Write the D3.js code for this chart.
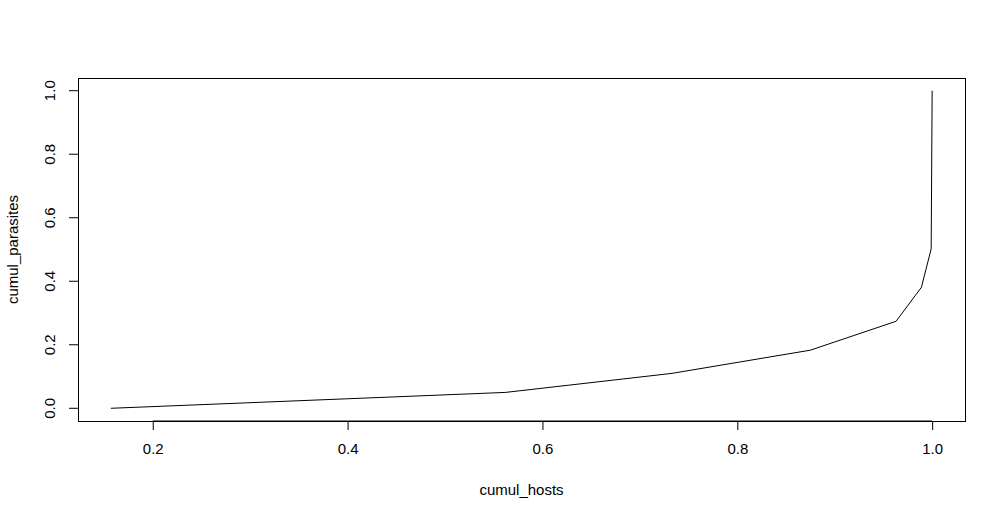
<!DOCTYPE html>
<html>
<head>
<meta charset="utf-8">
<script src="https://cdn.jsdelivr.net/npm/d3@7"></script>
<style>
  body { margin: 0; background: #fff; }
  text { font-family: "Liberation Sans", Arial, sans-serif; font-size: 15px; fill: #000; }
</style>
</head>
<body>
<div id="chart"></div>
<script>
// data
var cumul_hosts = [0.157, 0.562, 0.733, 0.875, 0.963, 0.989, 0.999, 1.0];
var cumul_parasites = [0.0, 0.050, 0.110, 0.183, 0.274, 0.381, 0.502, 1.0];
var xTicks = [0.2, 0.4, 0.6, 0.8, 1.0];
var yTicks = [0.0, 0.2, 0.4, 0.6, 0.8, 1.0];

var W = 1004, H = 519;
var margin = {top: 78, right: 39, bottom: 98, left: 78},
    width = W - margin.left - margin.right,
    height = H - margin.top - margin.bottom;

var svg = d3.select("#chart")
  .append("svg")
    .attr("width", W)
    .attr("height", H);

var g = svg.append("g")
    .attr("transform", "translate(" + margin.left + "," + margin.top + ")");

// R style 4% padding on each side
var xmin = d3.min(cumul_hosts), xmax = d3.max(cumul_hosts);
var ymin = d3.min(cumul_parasites), ymax = d3.max(cumul_parasites);
var dx = (xmax - xmin) * 0.04, dy = (ymax - ymin) * 0.04;

var x = d3.scaleLinear()
  .domain([xmin - dx, xmax + dx])
  .range([0, width]);

var y = d3.scaleLinear()
  .domain([ymin - dy, ymax + dy])
  .range([height, 0]);

// X axis
var xAxis = g.append("g")
  .attr("transform", "translate(0," + height + ")")
  .call(d3.axisBottom(x).tickValues(xTicks).tickSize(9).tickPadding(13).tickFormat(d3.format(".1f")));
xAxis.select(".domain").remove();
xAxis.append("line")
  .attr("x1", x(xTicks[0])).attr("x2", x(xTicks[xTicks.length - 1]))
  .attr("stroke", "#000");
xAxis.selectAll("text").style("font-size", "15px").style("font-family", "Liberation Sans, Arial, sans-serif");

// Y axis
var yAxis = g.append("g")
  .call(d3.axisLeft(y).tickValues(yTicks).tickSize(9).tickFormat(d3.format(".1f")));
yAxis.select(".domain").remove();
yAxis.selectAll("text")
  .attr("x", 0).attr("dy", null)
  .attr("transform", function(d) { return "translate(-27," + y(d) + ") rotate(-90)"; })
  .attr("y", 0)
  .style("text-anchor", "middle")
  .style("dominant-baseline", "middle")
  .style("font-size", "15px").style("font-family", "Liberation Sans, Arial, sans-serif");
yAxis.selectAll(".tick").attr("transform", null);
yAxis.selectAll(".tick line").attr("y1", function(d) { return y(d); }).attr("y2", function(d) { return y(d); });

// box
g.append("rect")
  .attr("x", 0.5).attr("y", 0.5)
  .attr("width", width).attr("height", height)
  .attr("fill", "none").attr("stroke", "#000");

// line
var line = d3.line()
  .x(function(d, i) { return x(cumul_hosts[i]); })
  .y(function(d) { return y(d); });

g.append("path")
  .datum(cumul_parasites)
  .attr("d", line)
  .attr("fill", "none")
  .attr("stroke", "#000")
  .attr("stroke-width", 1);

// axis titles
svg.append("text")
  .attr("x", margin.left + width / 2)
  .attr("y", 495)
  .attr("text-anchor", "middle")
  .text("cumul_hosts");

svg.append("text")
  .attr("transform", "translate(18," + (margin.top + height / 2) + ") rotate(-90)")
  .attr("text-anchor", "middle")
  .text("cumul_parasites");
</script>
</body>
</html>
